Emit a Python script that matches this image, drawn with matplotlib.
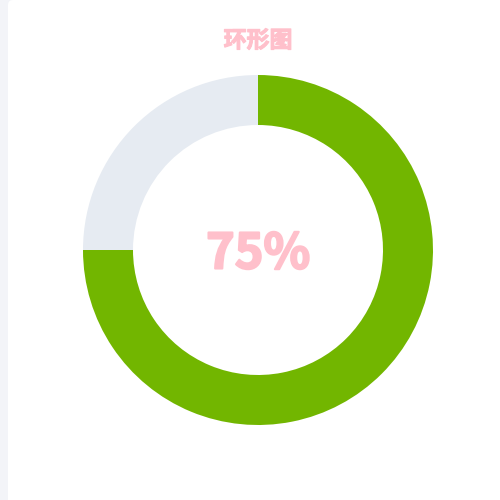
import matplotlib.pyplot as plt
import matplotlib.patheffects as pe
from matplotlib.patches import FancyBboxPatch

plt.rcParams['font.family'] = ['Noto Sans CJK SC', 'DejaVu Sans']

# data
labels = ['完成', '未完成']
values = [75, 25]
colors = ['#72b600', '#e6ebf2']
title = '环形图'
center_text = '75%'

fig = plt.figure(figsize=(5, 5), dpi=100, facecolor='#f3f4f8')
ax = fig.add_axes([0, 0, 1, 1])

# white card
card = FancyBboxPatch((8, -20), 520, 520, boxstyle='round,pad=0,rounding_size=5',
                      facecolor='white', edgecolor='none', zorder=0)
ax.add_patch(card)

ax.pie(values, colors=colors, startangle=90, counterclock=False,
       center=(258, 250), radius=175, wedgeprops=dict(width=50, linewidth=0),
       frame=True)
ax.set_xlim(0, 500)
ax.set_ylim(0, 500)
ax.set_aspect('equal')
ax.axis('off')

# fake a heavier weight with a thin stroke in the same colour
ax.text(258, 459, title, ha='center', va='center', fontsize=16.5,
        fontweight='bold', color='#ffc0cb',
        path_effects=[pe.withStroke(linewidth=0.8, foreground='#ffc0cb')])
ax.text(258, 246, center_text, ha='center', va='center', fontsize=35,
        fontweight='bold', color='#ffc0cb',
        path_effects=[pe.withStroke(linewidth=1.5, foreground='#ffc0cb')])

plt.savefig('out.png', dpi=100, facecolor=fig.get_facecolor())
